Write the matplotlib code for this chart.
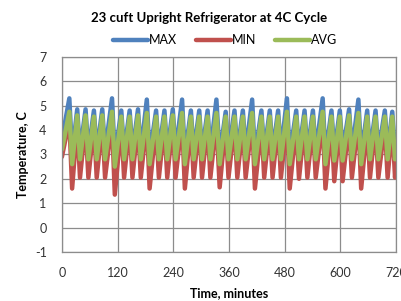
import matplotlib
matplotlib.use('Agg')
import matplotlib.pyplot as plt

# cycle peak / trough times (minutes)
peak_t = [16, 33, 51, 69, 87, 108, 128, 146, 164, 183, 203, 221, 239, 259, 278, 296, 314, 333, 353,
          372, 390, 410, 430, 448, 466, 485, 505, 523, 541, 562, 581, 599, 619, 639, 658, 676, 696, 712]
low_t = [22, 39, 57, 75, 93, 114, 134, 152, 170, 189, 209, 227, 245, 265, 284, 302, 320, 340, 359,
         378, 396, 416, 436, 454, 472, 491, 511, 529, 547, 568, 587, 605, 625, 645, 664, 682, 702, 718]

max_hi = [5.3, 4.85, 4.85, 4.8, 4.85, 5.3, 4.8, 4.8, 4.85, 5.25, 4.8, 4.8, 4.85, 5.25, 4.8, 4.8, 4.8, 5.25, 4.75,
          4.8, 4.8, 5.25, 4.8, 4.8, 4.8, 5.3, 4.8, 4.8, 4.8, 5.3, 4.8, 4.8, 4.85, 5.25, 4.8, 4.8, 4.8, 4.75]
max_lo = [3.0, 3.1, 3.1, 3.1, 3.1, 2.9, 3.1, 3.1, 3.1, 2.95, 3.1, 3.1, 3.1, 2.95, 3.1, 3.1, 3.1, 2.95, 3.1,
          3.1, 3.1, 2.95, 3.1, 3.1, 3.1, 2.95, 3.1, 3.1, 3.1, 2.95, 3.1, 3.1, 3.1, 2.95, 3.1, 3.1, 3.1, 3.1]
min_hi = [4.4, 4.3, 4.3, 4.25, 4.3, 4.4, 4.25, 4.25, 4.3, 4.4, 4.25, 4.25, 4.3, 4.4, 4.25, 4.25, 4.25, 4.4, 4.25,
          4.25, 4.25, 4.4, 4.25, 4.25, 4.25, 4.4, 4.25, 4.25, 4.25, 4.4, 4.25, 4.25, 4.3, 4.4, 4.25, 4.25, 4.25, 4.25]
min_lo = [1.6, 2.05, 2.05, 2.05, 2.05, 1.35, 2.05, 2.05, 2.05, 1.6, 2.05, 2.05, 2.05, 1.6, 2.05, 2.05, 2.05, 1.65, 2.05,
          2.05, 2.05, 1.6, 2.05, 2.05, 2.05, 1.6, 2.0, 2.05, 2.05, 1.6, 1.9, 1.9, 2.05, 1.6, 2.05, 2.05, 2.05, 2.05]
avg_hi = [4.75, 4.6, 4.6, 4.55, 4.6, 4.75, 4.55, 4.55, 4.6, 4.7, 4.55, 4.55, 4.6, 4.7, 4.55, 4.55, 4.55, 4.7, 4.55,
          4.55, 4.55, 4.7, 4.55, 4.55, 4.55, 4.75, 4.55, 4.55, 4.55, 4.75, 4.55, 4.55, 4.6, 4.7, 4.55, 4.55, 4.55, 4.55]
avg_lo = [2.6, 2.8, 2.8, 2.8, 2.8, 2.5, 2.8, 2.8, 2.8, 2.6, 2.8, 2.8, 2.8, 2.6, 2.8, 2.8, 2.8, 2.6, 2.8,
          2.8, 2.8, 2.6, 2.8, 2.8, 2.8, 2.6, 2.8, 2.8, 2.8, 2.6, 2.75, 2.75, 2.8, 2.6, 2.8, 2.8, 2.8, 2.8]

start = {'MAX': 3.6, 'MIN': 2.9, 'AVG': 3.2}
end = {'MAX': 3.8, 'MIN': 2.6, 'AVG': 3.1}


def series(hi, lo, name):
    t, v = [0], [start[name]]
    for a, b, c, d in zip(peak_t, hi, low_t, lo):
        t += [a, c]
        v += [b, d]
    t.append(720)
    v.append(end[name])
    return t, v


plt.rcParams['font.family'] = ['Lato', 'DejaVu Sans']
plt.rcParams['axes.unicode_minus'] = False

fig = plt.figure(figsize=(4.02, 3.01), dpi=100)
ax = fig.add_axes([0.154, 0.163, 0.831, 0.648])

for hi, lo, name, col in [(max_hi, max_lo, 'MAX', '#4F81BD'),
                          (min_hi, min_lo, 'MIN', '#C0504D'),
                          (avg_hi, avg_lo, 'AVG', '#9BBB59')]:
    t, v = series(hi, lo, name)
    ax.plot(t, v, color=col, lw=3.2, label=name, solid_capstyle='round', solid_joinstyle='round')

ax.set_xlim(0, 720)
ax.set_ylim(-1, 7)
ax.set_xticks(range(0, 721, 120))
ax.set_yticks(range(-1, 8))
ax.grid(True, color='#8c8c8c', lw=0.9)
ax.set_axisbelow(True)
for s in ax.spines.values():
    s.set_color('#8c8c8c')
    s.set_linewidth(0.9)
ax.tick_params(length=0, pad=11, labelsize=9, labelcolor='#333333')

ax.set_xlabel('Time, minutes', fontsize=9, fontweight='bold', labelpad=6)
ax.set_ylabel('Temperature, C', fontsize=9, fontweight='bold', labelpad=4)
fig.text(0.52, 0.94, '23 cuft Upright Refrigerator at 4C Cycle', ha='center', va='center',
         fontsize=9.5, fontweight='bold')
fig.legend(loc='center', bbox_to_anchor=(0.56, 0.866), ncol=3, frameon=False, fontsize=9,
           handlelength=2.8, columnspacing=1.5, handletextpad=0.1)

fig.savefig('out.png', dpi=100)
